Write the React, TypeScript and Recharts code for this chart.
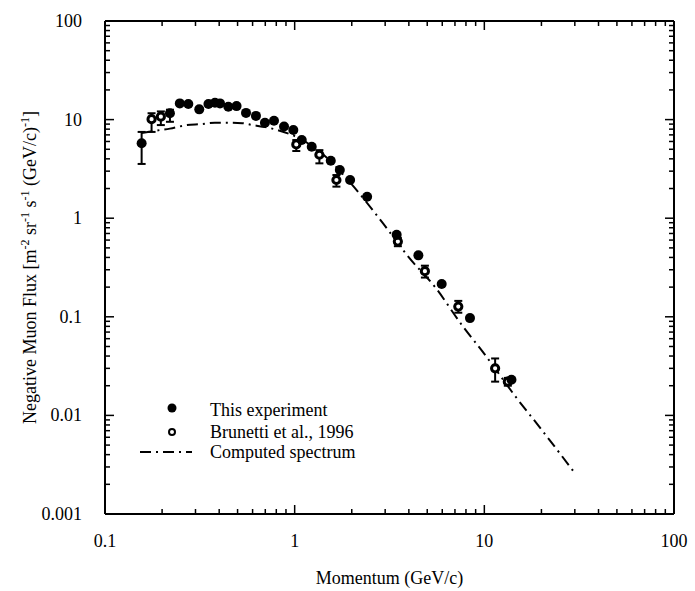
import {
  ComposedChart,
  Scatter,
  Line,
  XAxis,
  YAxis,
  ErrorBar,
  Legend,
} from "recharts";

// "This experiment" - momentum (GeV/c), flux and asymmetric errors
const expP = [0.156, 0.22, 0.248, 0.275, 0.314, 0.351, 0.38, 0.404, 0.447, 0.494, 0.554, 0.625, 0.697, 0.778, 0.879, 0.984, 1.09, 1.23, 1.55, 1.73, 1.96, 2.41, 3.45, 4.49, 5.96, 8.4, 13.9];
const expFlux = [5.75, 11.6, 14.6, 14.4, 12.7, 14.4, 14.8, 14.6, 13.5, 13.7, 11.7, 10.9, 9.3, 9.75, 8.5, 7.85, 6.2, 5.3, 3.83, 3.08, 2.44, 1.65, 0.68, 0.42, 0.215, 0.097, 0.023];
const expErrLo = [2.2, 2.1, 0, 0, 0, 0, 0, 0, 0, 0, 0, 0, 0, 0, 0, 0, 0, 0, 0, 0, 0, 0, 0, 0, 0, 0, 0];
const expErrHi = [1.75, 1.0, 0, 0, 0, 0, 0, 0, 0, 0, 0, 0, 0, 0, 0, 0, 0, 0, 0, 0, 0, 0, 0, 0, 0, 0, 0];

// Brunetti et al., 1996
const bruP = [0.176, 0.197, 1.02, 1.35, 1.66, 3.5, 4.86, 7.29, 11.4, 13.3];
const bruFlux = [10.1, 10.7, 5.6, 4.4, 2.44, 0.58, 0.29, 0.127, 0.03, 0.022];
const bruErrLo = [2.6, 1.9, 0.8, 0.8, 0.35, 0.06, 0.04, 0.017, 0.008, 0.002];
const bruErrHi = [1.5, 1.4, 0.6, 0.5, 0.3, 0.05, 0.04, 0.018, 0.0078, 0.002];

// Computed spectrum
const calcP = [0.156, 0.183, 0.22, 0.27, 0.32, 0.38, 0.45, 0.53, 0.6, 0.7, 0.8, 1.0, 1.2, 1.5, 2.0, 3.0, 4.0, 5.5, 7.7, 10, 14.8, 20, 30];
const calcFlux = [7.3, 7.7, 8.1, 8.8, 9.0, 9.3, 9.3, 9.2, 8.8, 8.4, 7.9, 6.8, 5.6, 4.0, 2.2, 0.83, 0.4, 0.2, 0.08, 0.042, 0.015, 0.0072, 0.0026];

const xMajor = [0.1, 1, 10, 100];
const xLabels = ["0.1", "1", "10", "100"];
const yMajor = [0.001, 0.01, 0.1, 1, 10, 100];
const yLabels = ["0.001", "0.01", "0.1", "1", "10", "100"];

const X_MIN = 0.1;
const X_MAX = 100;
const Y_MIN = 0.001;
const Y_MAX = 100;

const withMinors = (majors: number[]) => {
  const out: number[] = [];
  majors.forEach((m, i) => {
    out.push(m);
    if (i < majors.length - 1) for (let k = 2; k <= 9; k++) out.push(m * k);
  });
  return out;
};
const xTicks = withMinors(xMajor);
const yTicks = withMinors(yMajor);

const expData = expP.map((p, i) => ({ p, flux: expFlux[i], err: [expErrLo[i], expErrHi[i]] }));
const bruData = bruP.map((p, i) => ({ p, flux: bruFlux[i], err: [bruErrLo[i], bruErrHi[i]] }));
const calcData = calcP.map((p, i) => ({ p, flux: calcFlux[i] }));

const FONT = "'Liberation Serif', 'Times New Roman', serif";
const DASHDOT = "11 5 2 5";
const MAJOR_LEN = 9;
const MINOR_LEN = 5;

const majorIdx = (list: number[], v: number) => list.findIndex((m) => Math.abs(m - v) < m * 1e-6);
const tickLen = (list: number[], v: number) => (majorIdx(list, v) >= 0 ? MAJOR_LEN : MINOR_LEN);

// frame edges and tick marks, placed through the chart scales
const topEdge = [{ p: X_MIN, flux: Y_MAX }, { p: X_MAX, flux: Y_MAX }];
const rightEdge = [{ p: X_MAX, flux: Y_MAX }, { p: X_MAX, flux: Y_MIN }];
const topTicks = xTicks.map((t) => ({ p: t, flux: Y_MAX, len: tickLen(xMajor, t) }));
const bottomTicks = xTicks.map((t) => ({ p: t, flux: Y_MIN, len: tickLen(xMajor, t) }));
const leftTicks = yTicks.map((t) => ({ p: X_MIN, flux: t, len: tickLen(yMajor, t) }));
const rightTicks = yTicks.map((t) => ({ p: X_MAX, flux: t, len: tickLen(yMajor, t) }));

const TickDown = ({ cx, cy, payload }: any) => (
  <path d={`M${cx},${cy}v${payload.len}`} stroke="#000" strokeWidth={1.5} fill="none" />
);
const TickUp = ({ cx, cy, payload }: any) => (
  <path d={`M${cx},${cy}v${-payload.len}`} stroke="#000" strokeWidth={1.5} fill="none" />
);
const TickRight = ({ cx, cy, payload }: any) => (
  <path d={`M${cx},${cy}h${payload.len}`} stroke="#000" strokeWidth={1.5} fill="none" />
);
const TickLeft = ({ cx, cy, payload }: any) => (
  <path d={`M${cx},${cy}h${-payload.len}`} stroke="#000" strokeWidth={1.5} fill="none" />
);

const BottomLabel = ({ x, y, payload }: any) => {
  const i = majorIdx(xMajor, payload.value);
  if (i < 0) return <g />;
  return (
    <text x={x} y={y + 33} textAnchor="middle" fontFamily={FONT} fontSize={18} fill="#000">
      {xLabels[i]}
    </text>
  );
};

const LeftLabel = ({ x, y, payload }: any) => {
  const i = majorIdx(yMajor, payload.value);
  if (i < 0) return <g />;
  return (
    <text x={x - 23} y={y + 6} textAnchor="end" fontFamily={FONT} fontSize={18} fill="#000">
      {yLabels[i]}
    </text>
  );
};

const FilledDot = ({ cx, cy }: any) => <circle cx={cx} cy={cy} r={5} fill="#000" />;
const OpenDot = ({ cx, cy }: any) => <circle cx={cx} cy={cy} r={3.6} fill="#fff" stroke="#000" strokeWidth={3} />;

const YLabel = ({ viewBox }: any) => {
  const cx = 36;
  const cy = viewBox.y + viewBox.height / 2;
  return (
    <text x={cx} y={cy} transform={`rotate(-90, ${cx}, ${cy})`} textAnchor="middle" fontFamily={FONT} fontSize={18} fill="#000">
      <tspan>Negative Muon Flux [m</tspan>
      <tspan fontSize={12} dy={-7}>-2</tspan>
      <tspan dy={7}> sr</tspan>
      <tspan fontSize={12} dy={-7}>-1</tspan>
      <tspan dy={7}> s</tspan>
      <tspan fontSize={12} dy={-7}>-1</tspan>
      <tspan dy={7}> (GeV/c)</tspan>
      <tspan fontSize={12} dy={-7}>-1</tspan>
      <tspan dy={7}>]</tspan>
    </text>
  );
};

const XLabel = ({ viewBox }: any) => (
  <text x={viewBox.x + viewBox.width / 2} y={viewBox.y + 70} textAnchor="middle" fontFamily={FONT} fontSize={18} fill="#000">
    Momentum (GeV/c)
  </text>
);

const LegendBox = () => (
  <svg width={260} height={70} style={{ overflow: "visible" }}>
    <g fontFamily={FONT} fontSize={18} fill="#000">
      <circle cx={34} cy={12} r={4.5} fill="#000" />
      <text x={72} y={20}>This experiment</text>
      <circle cx={34} cy={36} r={3} fill="#fff" stroke="#000" strokeWidth={2} />
      <text x={72} y={42}>Brunetti et al., 1996</text>
      <line x1={2} x2={54} y1={56} y2={56} stroke="#000" strokeWidth={2} strokeDasharray={DASHDOT} />
      <text x={72} y={62}>Computed spectrum</text>
    </g>
  </svg>
);

const axisLine = { stroke: "#000", strokeWidth: 2 };

export default function App() {
  return (
    <div style={{ position: "absolute", left: 0, top: 0, background: "#fff" }}>
      <ComposedChart width={695} height={591} margin={{ top: 21, right: 21, bottom: 0, left: 0 }}>
        <XAxis
          dataKey="p"
          type="number"
          scale="log"
          domain={[X_MIN, X_MAX]}
          ticks={xTicks}
          interval={0}
          tickLine={false}
          tickSize={0}
          tickMargin={0}
          tick={<BottomLabel />}
          axisLine={axisLine}
          height={77}
          label={{ content: <XLabel /> }}
        />
        <YAxis
          dataKey="flux"
          type="number"
          scale="log"
          domain={[Y_MIN, Y_MAX]}
          ticks={yTicks}
          interval={0}
          tickLine={false}
          tickSize={0}
          tickMargin={0}
          tick={<LeftLabel />}
          axisLine={axisLine}
          width={105}
          label={{ content: <YLabel /> }}
        />
        <Legend
          layout="vertical"
          align="center"
          verticalAlign="middle"
          content={<LegendBox />}
          wrapperStyle={{ position: "absolute", left: 138, top: 396, width: 260, height: 70 }}
        />
        {/* frame top and right edges */}
        <Line data={topEdge} dataKey="flux" type="linear" stroke="#000" strokeWidth={2} dot={false} activeDot={false} legendType="none" isAnimationActive={false} />
        <Line data={rightEdge} dataKey="flux" type="linear" stroke="#000" strokeWidth={2} dot={false} activeDot={false} legendType="none" isAnimationActive={false} />
        {/* inward ticks on all four sides */}
        <Scatter data={topTicks} dataKey="flux" shape={<TickDown />} legendType="none" isAnimationActive={false} />
        <Scatter data={bottomTicks} dataKey="flux" shape={<TickUp />} legendType="none" isAnimationActive={false} />
        <Scatter data={leftTicks} dataKey="flux" shape={<TickRight />} legendType="none" isAnimationActive={false} />
        <Scatter data={rightTicks} dataKey="flux" shape={<TickLeft />} legendType="none" isAnimationActive={false} />
        <Line
          data={calcData}
          dataKey="flux"
          type="monotone"
          stroke="#000"
          strokeWidth={2}
          strokeDasharray={DASHDOT}
          dot={false}
          activeDot={false}
          isAnimationActive={false}
        />
        <Scatter data={bruData} dataKey="flux" shape={<OpenDot />} isAnimationActive={false}>
          <ErrorBar dataKey="err" direction="y" width={4} stroke="#000" strokeWidth={2} isAnimationActive={false} />
        </Scatter>
        <Scatter data={expData} dataKey="flux" shape={<FilledDot />} isAnimationActive={false}>
          <ErrorBar dataKey="err" direction="y" width={4} stroke="#000" strokeWidth={2} isAnimationActive={false} />
        </Scatter>
      </ComposedChart>
    </div>
  );
}
